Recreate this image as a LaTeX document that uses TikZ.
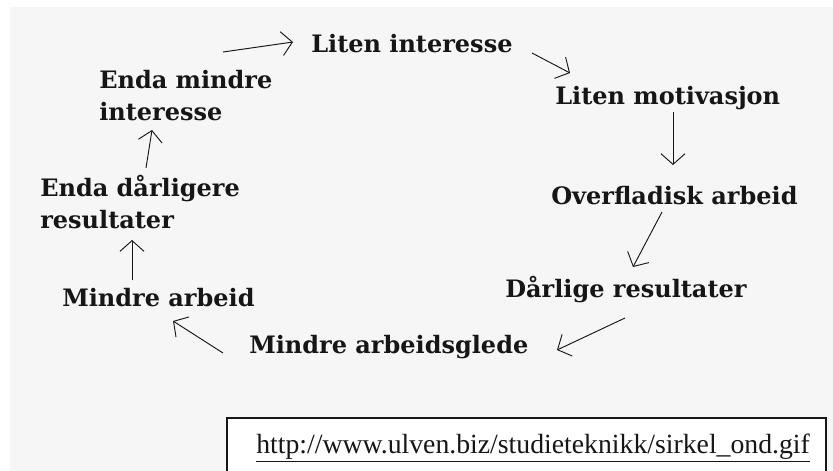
\documentclass[tikz,border=0pt]{standalone}
\usepackage{fontspec}
\setmainfont{DejaVu Serif}
\newfontfamily\urlfont{Liberation Serif}
\usetikzlibrary{arrows.meta}
\definecolor{bggray}{RGB}{246,246,246}
\definecolor{ink}{RGB}{22,22,22}

\begin{document}
\begin{tikzpicture}
  [x=0.75pt,y=-0.75pt,
   every node/.style={inner sep=0pt,text=ink},
   cycletext/.style={anchor=base west,align=left,
     font=\bfseries\fontsize{18}{23.5}\selectfont},
   handarrow/.style={draw=ink,line width=0.7pt,
     -{Straight Barb[length=8pt,width=18pt]}}]

  \useasboundingbox (0,0) rectangle (833,471);
  \clip (0,0) rectangle (833,471);
  \fill[bggray] (10,7) rectangle (833,471);

  % the vicious circle
  \node[cycletext] (interesse)   at (311,52)  {Liten interesse};
  \node[cycletext] (motivasjon)  at (555,104) {Liten motivasjon};
  \node[cycletext] (overfladisk) at (551,204) {Overfladisk arbeid};
  \node[cycletext] (resultater)  at (505,297) {Dårlige resultater};
  \node[cycletext] (glede)       at (249,353) {Mindre arbeidsglede};
  \node[cycletext] (arbeid)      at (62,306)  {Mindre arbeid};
  \node[cycletext] (darligere)   at (40,228)  {Enda dårligere\\resultater};
  \node[cycletext] (mindreint)   at (99,120)  {Enda mindre\\interesse};

  \draw[handarrow] ([shift={(124,-68)}]mindreint.base west) -- ([shift={(-18,-10)}]interesse.base west);
  \draw[handarrow] ([shift={(221,1)}]interesse.base west) -- ([shift={(15,-31)}]motivasjon.base west);
  \draw[handarrow] ([shift={(118,8)}]motivasjon.base west) -- ([shift={(122,-39)}]overfladisk.base west);
  \draw[handarrow] ([shift={(111,8)}]overfladisk.base west) -- ([shift={(128,-30)}]resultater.base west);
  \draw[handarrow] ([shift={(120,21)}]resultater.base west) -- ([shift={(308,-3)}]glede.base west);
  \draw[handarrow] ([shift={(-26,0)}]glede.base west) -- ([shift={(111,15)}]arbeid.base west);
  \draw[handarrow] ([shift={(70,-26)}]arbeid.base west) -- ([shift={(92,12)}]darligere.base west);
  \draw[handarrow] ([shift={(106,-60)}]darligere.base west) -- ([shift={(53,10)}]mindreint.base west);

  % source
  \draw[draw=ink,fill=white,line width=0.9pt] (227,418) rectangle (826,490);
  \node[anchor=base west,font=\urlfont\fontsize{20.8}{24}\selectfont] (kilde) at (256,453)
    {\underline{http://www.ulven.biz/studieteknikk/sirkel\_ond.gif}};
\end{tikzpicture}
\end{document}
